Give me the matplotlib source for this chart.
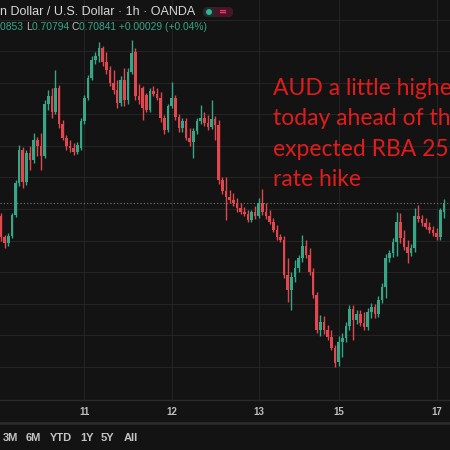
import numpy as np
import matplotlib
matplotlib.use("Agg")
import matplotlib.pyplot as plt
from matplotlib.patches import FancyBboxPatch, Circle

# AUD/USD 1h candles
opens = [0.70800, 0.70733, 0.70714, 0.70736, 0.70803, 0.70904, 0.71009, 0.70908, 0.70999, 0.70977,
         0.71041, 0.71022, 0.70990, 0.71155, 0.71180, 0.71130, 0.71206, 0.71091, 0.71047, 0.71022,
         0.71016, 0.71003, 0.71016, 0.71101, 0.71174, 0.71238, 0.71294, 0.71307, 0.71333, 0.71288,
         0.71263, 0.71221, 0.71199, 0.71158, 0.71231, 0.71168, 0.71257, 0.71320, 0.71180, 0.71206,
         0.71183, 0.71136, 0.71196, 0.71186, 0.71174, 0.71111, 0.71072, 0.71149, 0.71174, 0.71114,
         0.71079, 0.71101, 0.71047, 0.71035, 0.71069, 0.71101, 0.71111, 0.71094, 0.71082, 0.71107,
         0.71088, 0.70914, 0.70879, 0.70860, 0.70851, 0.70841, 0.70826, 0.70813, 0.70806, 0.70787,
         0.70813, 0.70800, 0.70841, 0.70813, 0.70800, 0.70781, 0.70755, 0.70733, 0.70724, 0.70613,
         0.70565, 0.70607, 0.70635, 0.70667, 0.70705, 0.70676, 0.70623, 0.70549, 0.70438, 0.70464,
         0.70438, 0.70416, 0.70382, 0.70337, 0.70401, 0.70413, 0.70451, 0.70505, 0.70470, 0.70489,
         0.70460, 0.70448, 0.70496, 0.70512, 0.70489, 0.70534, 0.70575, 0.70667, 0.70682, 0.70718,
         0.70781, 0.70730, 0.70702, 0.70682, 0.70699, 0.70800, 0.70790, 0.70777, 0.70765, 0.70755,
         0.70745, 0.70733, 0.70812]
highs = [0.70809, 0.70739, 0.70745, 0.70809, 0.70914, 0.71025, 0.71019, 0.71009, 0.71022, 0.71062,
         0.71050, 0.71062, 0.71168, 0.71199, 0.71206, 0.71263, 0.71215, 0.71104, 0.71056, 0.71041,
         0.71031, 0.71035, 0.71111, 0.71183, 0.71247, 0.71307, 0.71320, 0.71352, 0.71339, 0.71320,
         0.71275, 0.71263, 0.71231, 0.71244, 0.71269, 0.71269, 0.71358, 0.71333, 0.71218, 0.71212,
         0.71189, 0.71206, 0.71212, 0.71206, 0.71193, 0.71120, 0.71155, 0.71225, 0.71183, 0.71123,
         0.71111, 0.71111, 0.71079, 0.71079, 0.71111, 0.71152, 0.71130, 0.71120, 0.71168, 0.71117,
         0.71104, 0.70924, 0.70924, 0.70882, 0.70872, 0.70857, 0.70841, 0.70829, 0.70819, 0.70819,
         0.70832, 0.70857, 0.70885, 0.70841, 0.70819, 0.70794, 0.70771, 0.70742, 0.70736, 0.70667,
         0.70623, 0.70660, 0.70676, 0.70739, 0.70724, 0.70699, 0.70635, 0.70559, 0.70486, 0.70483,
         0.70454, 0.70438, 0.70391, 0.70419, 0.70428, 0.70464, 0.70518, 0.70518, 0.70502, 0.70502,
         0.70496, 0.70509, 0.70524, 0.70521, 0.70546, 0.70587, 0.70679, 0.70692, 0.70730, 0.70813,
         0.70809, 0.70755, 0.70724, 0.70711, 0.70825, 0.70835, 0.70803, 0.70794, 0.70781, 0.70768,
         0.70762, 0.70825, 0.70853]
lows = [0.70721, 0.70699, 0.70705, 0.70730, 0.70797, 0.70895, 0.70889, 0.70898, 0.70946, 0.70967,
        0.70990, 0.70946, 0.70984, 0.71136, 0.71111, 0.71123, 0.71079, 0.71041, 0.71009, 0.71003,
        0.70993, 0.70996, 0.71009, 0.71091, 0.71168, 0.71231, 0.71281, 0.71288, 0.71275, 0.71250,
        0.71212, 0.71186, 0.71143, 0.71149, 0.71149, 0.71155, 0.71250, 0.71168, 0.71155, 0.71104,
        0.71130, 0.71130, 0.71180, 0.71168, 0.71098, 0.71059, 0.71066, 0.71143, 0.71104, 0.71066,
        0.71066, 0.71041, 0.71022, 0.70984, 0.71059, 0.71091, 0.71085, 0.71072, 0.71075, 0.71041,
        0.70901, 0.70869, 0.70787, 0.70841, 0.70831, 0.70813, 0.70806, 0.70800, 0.70781, 0.70781,
        0.70790, 0.70794, 0.70803, 0.70790, 0.70774, 0.70749, 0.70724, 0.70718, 0.70604, 0.70528,
        0.70502, 0.70591, 0.70623, 0.70654, 0.70667, 0.70613, 0.70540, 0.70428, 0.70419, 0.70425,
        0.70407, 0.70375, 0.70321, 0.70324, 0.70353, 0.70401, 0.70438, 0.70407, 0.70457, 0.70451,
        0.70438, 0.70438, 0.70477, 0.70477, 0.70480, 0.70524, 0.70540, 0.70654, 0.70670, 0.70673,
        0.70714, 0.70692, 0.70650, 0.70673, 0.70686, 0.70781, 0.70768, 0.70758, 0.70745, 0.70736,
        0.70724, 0.70724, 0.70794]
closes = [0.70733, 0.70714, 0.70736, 0.70803, 0.70904, 0.71009, 0.70908, 0.70999, 0.70977, 0.71041,
          0.71022, 0.70990, 0.71155, 0.71180, 0.71130, 0.71206, 0.71091, 0.71047, 0.71022, 0.71016,
          0.71003, 0.71025, 0.71101, 0.71174, 0.71238, 0.71294, 0.71307, 0.71333, 0.71288, 0.71263,
          0.71221, 0.71199, 0.71158, 0.71231, 0.71168, 0.71257, 0.71316, 0.71180, 0.71168, 0.71143,
          0.71136, 0.71196, 0.71186, 0.71174, 0.71111, 0.71072, 0.71149, 0.71174, 0.71114, 0.71079,
          0.71101, 0.71047, 0.71035, 0.71069, 0.71101, 0.71111, 0.71094, 0.71082, 0.71107, 0.71088,
          0.70914, 0.70879, 0.70860, 0.70851, 0.70841, 0.70826, 0.70813, 0.70806, 0.70787, 0.70813,
          0.70800, 0.70841, 0.70813, 0.70800, 0.70781, 0.70755, 0.70733, 0.70724, 0.70613, 0.70565,
          0.70607, 0.70635, 0.70667, 0.70705, 0.70676, 0.70623, 0.70549, 0.70438, 0.70464, 0.70438,
          0.70416, 0.70382, 0.70333, 0.70401, 0.70413, 0.70451, 0.70505, 0.70470, 0.70489, 0.70460,
          0.70448, 0.70496, 0.70512, 0.70489, 0.70534, 0.70575, 0.70667, 0.70682, 0.70718, 0.70781,
          0.70730, 0.70702, 0.70682, 0.70699, 0.70800, 0.70790, 0.70777, 0.70765, 0.70755, 0.70745,
          0.70733, 0.70819, 0.70841]

day_labels = ["11", "12", "13", "15", "17"]
day_pos = [23, 47, 71, 93, 120]
buttons = ["3M", "6M", "YTD", "1Y", "5Y", "All"]
button_x = [3, 26, 50, 80, 101, 124]
note = "AUD a little higher\ntoday ahead of the\nexpected RBA 25bp\nrate hike"

bg = "#131313"
grid_c = "#242424"
up_c = "#36a687"
dn_c = "#e2474f"
W, H = 450, 450

fig = plt.figure(figsize=(4.5, 4.5), dpi=100, facecolor=bg)
ax = fig.add_axes([0, 50 / H, 1, 400 / H])
ax.set_facecolor(bg)

o = np.array(opens)
h = np.array(highs)
l = np.array(lows)
c = np.array(closes)
x = np.arange(len(c))
cols = np.where(c >= o, up_c, dn_c)

ax.vlines(x, l, h, colors=cols, linewidth=1.0, zorder=3)
body = np.maximum(np.abs(c - o), 0.00002)
ax.bar(x, body, bottom=np.minimum(o, c), width=0.72, color=cols, linewidth=0, zorder=4)

ax.axhline(c[-1], color="#7a7a7a", linestyle=(0, (1, 2)), linewidth=0.8, zorder=2)

ax.set_xlim(-0.28, 123.7)
ax.set_ylim(0.702165, 0.714845)
ax.set_yticks(np.arange(0.70322, 0.7145, 0.001))
ax.set_xticks(day_pos)
ax.set_xticklabels(day_labels)
ax.grid(True, color=grid_c, linewidth=0.8, zorder=0)
ax.tick_params(axis="y", left=False, labelleft=False)
ax.tick_params(axis="x", length=0, pad=5, labelsize=7, labelcolor="#bdbdbd")
for t in ax.get_xticklabels():
    t.set_fontweight("bold")
    t.set_family("Liberation Sans")
for s in ax.spines.values():
    s.set_visible(False)

# separators under the chart
fig.add_artist(plt.Line2D([0, 1], [1 - 400 / H] * 2, color="#2a2a2a", lw=1))
fig.add_artist(plt.Line2D([0, 1], [1 - 423 / H] * 2, color="#2c2c2c", lw=1.8))

for b, bx in zip(buttons, button_x):
    fig.text(bx / W, 1 - 438 / H, b, color="#c4c4c4", fontsize=8, fontweight="bold",
             family="Liberation Sans", va="center", ha="left")

# header
fig.text(0, 1 - 12 / H, "n Dollar / U.S. Dollar · 1h · OANDA", color="#d8d8d8",
         fontsize=9, family="Liberation Sans", va="center", ha="left")
hdr = [("0853 ", up_c), ("L", "#bdbdbd"), ("0.70794 ", up_c), ("C", "#bdbdbd"),
       ("0.70841 +0.00029 (+0.04%)", up_c)]
xx = 0
for txt, col in hdr:
    t = fig.text(xx / W, 1 - 27 / H, txt, color=col, fontsize=7.4, family="Liberation Sans",
                 va="center", ha="left")
    fig.canvas.draw()
    xx += t.get_window_extent().width

pill = FancyBboxPatch((203 / W, 1 - 17 / H), 30 / W, 10 / H, boxstyle="round,pad=0,rounding_size=0.011",
                      transform=fig.transFigure, facecolor="#262a2e", edgecolor="none")
fig.add_artist(pill)
red = FancyBboxPatch((214 / W, 1 - 17 / H), 19 / W, 10 / H, boxstyle="round,pad=0,rounding_size=0.011",
                     transform=fig.transFigure, facecolor="#4a1428", edgecolor="none")
fig.add_artist(red)
fig.add_artist(Circle((209 / W, 1 - 12 / H), 3 / W, transform=fig.transFigure,
                      facecolor="#2fb58f", edgecolor="none"))
fig.text(223 / W, 1 - 12 / H, "=", color="#e23a6c", fontsize=7, fontweight="bold",
         va="center", ha="center")

# annotation, running off the right edge as in the screenshot
fig.text(273 / W, 1 - 78 / H, note, color="#e01c1c", fontsize=16.5, family="Lato",
         va="top", ha="left", linespacing=1.55)

fig.savefig("out.png", dpi=100, facecolor=bg)
